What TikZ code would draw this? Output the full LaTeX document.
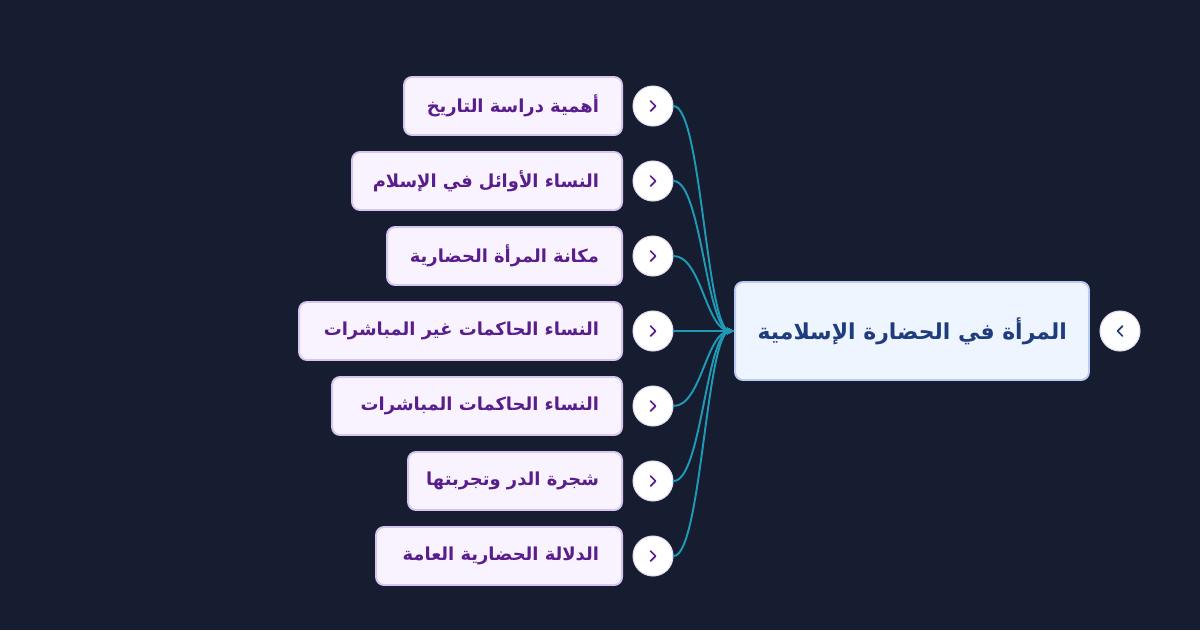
\documentclass[tikz,border=0pt]{standalone}
\usepackage{fontspec}
\TeXXeTstate=1
\newfontfamily\arabicfont[Script=Arabic]{DejaVu Sans}
\usetikzlibrary{arrows.meta,calc,positioning}
\definecolor{mapbg}{HTML}{161D30}
\definecolor{mapline}{HTML}{1E9AB4}
\definecolor{kidfill}{HTML}{F8F3FE}
\definecolor{kidedge}{HTML}{D8C6F2}
\definecolor{kidink}{HTML}{5A1E8C}
\definecolor{rootfill}{HTML}{EEF5FF}
\definecolor{rootedge}{HTML}{B7CDF2}
\definecolor{rootink}{HTML}{1F3C7C}
\definecolor{knobedge}{HTML}{E4DCF2}

\begin{document}
\begin{tikzpicture}[x=0.02cm,y=-0.02cm,>=Stealth,line cap=round,line join=round,
  kid/.style={draw=kidedge,fill=kidfill,line width=1.1pt,rounded corners=4.5pt,
    anchor=east,minimum height=1.16cm,inner xsep=0.46cm,text=kidink,
    font=\arabicfont\bfseries\fontsize{10.2}{12}\selectfont},
  hub/.style={draw=rootedge,fill=rootfill,line width=1.1pt,rounded corners=4.5pt,
    minimum height=1.96cm,inner xsep=0.44cm,text=rootink,
    font=\arabicfont\bfseries\fontsize{12.5}{15}\selectfont},
  knob/.style={circle,draw=knobedge,fill=white,line width=.6pt,minimum size=0.8cm,inner sep=0pt},
  chev/.style={line width=1pt},
  link/.style={draw=mapline,line width=1.1pt,-{Stealth[length=4pt,width=4pt]}}]
\path[use as bounding box] (0,0) rectangle (1200,630);
\fill[mapbg] (0,0) rectangle (1200,630);

% الجذر وزرّه
\node[hub] (hub) at (912,331) {\makebox[6.2cm][r]{\beginR المرأة في الحضارة الإسلامية\endR}};
\node[knob] (hubk) at (1120,331) {};
\draw[chev,draw=rootink] ($(hubk)+(2.5,-5)$) -- ++(-5,5) -- ++(5,5);

% الفروع: y، عرض النص، النص
\foreach \y/\w/\t [count=\i] in {
    106/3.44/{أهمية دراسة التاريخ},
    181/4.48/{النساء الأوائل في الإسلام},
    256/3.78/{مكانة المرأة الحضارية},
    331/5.54/{النساء الحاكمات غير المباشرات},
    406/4.88/{النساء الحاكمات المباشرات},
    481/3.36/{شجرة الدر وتجربتها},
    556/4.00/{الدلالة الحضارية العامة}}{
  \node[kid] (k\i) at (623,\y) {\makebox[\w cm][r]{\beginR\t\endR}};
  \node[knob] (c\i) at (653,\y) {};
  \draw[chev,draw=kidink] ($(c\i)+(-2.5,-5)$) -- ++(5,5) -- ++(-5,5);
  \draw[link] (c\i.east) .. controls +(28,0) and +(-28,0) .. (hub.west);
}
\end{tikzpicture}
\end{document}
